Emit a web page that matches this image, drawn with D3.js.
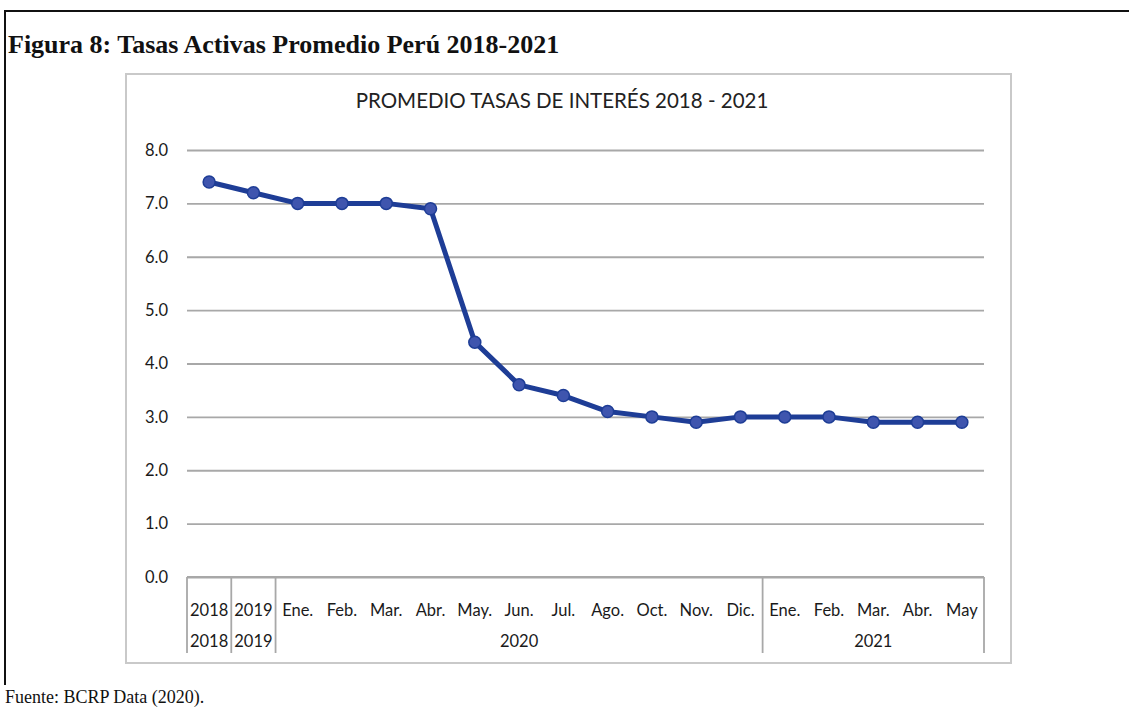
<!DOCTYPE html>
<html>
<head>
<meta charset="utf-8">
<script src="https://cdn.jsdelivr.net/npm/d3@7"></script>
<style>
  html, body { margin: 0; padding: 0; background: #fff; }
  svg { display: block; }
</style>
</head>
<body>
<svg id="fig" width="1129" height="710"></svg>
<script>
// Tasas activas promedio (%), BCRP
const monthLabels = ["2018", "2019", "Ene.", "Feb.", "Mar.", "Abr.", "May.", "Jun.", "Jul.", "Ago.", "Oct.", "Nov.", "Dic.", "Ene.", "Feb.", "Mar.", "Abr.", "May"];
const yearGroups = ["2018", "2019", "2020", "2021"];
const groupSizes = [1, 1, 11, 5];
const rates = [7.4, 7.2, 7.0, 7.0, 7.0, 6.9, 4.4, 3.6, 3.4, 3.1, 3.0, 2.9, 3.0, 3.0, 3.0, 2.9, 2.9, 2.9];
const yTicks = [0, 1, 2, 3, 4, 5, 6, 7, 8];

const svg = d3.select("#fig");

// Page frame (top and left rules)
svg.append("path")
  .attr("d", "M5,685 V11 H1129")
  .attr("fill", "none")
  .attr("stroke", "#111")
  .attr("stroke-width", 2);

svg.append("text")
  .attr("x", 8).attr("y", 53)
  .attr("font-family", "'Liberation Serif', 'Times New Roman', serif")
  .attr("font-weight", "bold")
  .attr("font-size", 26)
  .attr("fill", "#111")
  .text("Figura 8: Tasas Activas Promedio Perú 2018-2021");

svg.append("text")
  .attr("x", 5).attr("y", 703)
  .attr("font-family", "'Liberation Serif', 'Times New Roman', serif")
  .attr("font-size", 18)
  .attr("fill", "#111")
  .text("Fuente: BCRP Data (2020).");

// Chart area
const box = { x: 126, y: 74, w: 885, h: 589 };
svg.append("rect")
  .attr("x", box.x).attr("y", box.y)
  .attr("width", box.w).attr("height", box.h)
  .attr("fill", "#fff")
  .attr("stroke", "#c9c9c9")
  .attr("stroke-width", 2);

const plot = { left: 187, right: 984, top: 150, bottom: 577 };
const font = "Lato, 'Open Sans', sans-serif";

svg.append("text")
  .attr("x", 562)
  .attr("y", 108)
  .attr("text-anchor", "middle")
  .attr("font-family", font)
  .attr("font-size", 20.5)
  .attr("fill", "#222")
  .text("PROMEDIO TASAS DE INTERÉS 2018 - 2021");

const x = d3.scaleBand()
  .domain(d3.range(monthLabels.length))
  .range([plot.left, plot.right]);

const y = d3.scaleLinear()
  .domain([0, 8])
  .range([plot.bottom, plot.top]);

// Horizontal gridlines + value labels
const yAxis = svg.append("g")
  .attr("transform", `translate(${plot.left},0)`)
  .call(d3.axisLeft(y)
    .tickValues(yTicks)
    .tickFormat(d3.format(".1f"))
    .tickSize(-(plot.right - plot.left))
    .tickPadding(19));
yAxis.select(".domain").remove();
yAxis.selectAll(".tick line")
  .attr("stroke", "#a8a8a8")
  .attr("stroke-width", 1.8);
yAxis.selectAll(".tick text")
  .attr("font-family", font)
  .attr("font-size", 16.5)
  .attr("fill", "#1a1a1a");

// Category axis: months on the first row, years on the second
const xAxis = svg.append("g")
  .attr("transform", `translate(0,${plot.bottom})`)
  .call(d3.axisBottom(x)
    .tickFormat(i => monthLabels[i])
    .tickSize(0)
    .tickPadding(27));
xAxis.select(".domain").remove();
xAxis.selectAll(".tick text")
  .attr("font-family", font)
  .attr("font-size", 16.5)
  .attr("fill", "#1a1a1a");

svg.append("line")
  .attr("x1", plot.left).attr("x2", plot.right)
  .attr("y1", plot.bottom).attr("y2", plot.bottom)
  .attr("stroke", "#a8a8a8")
  .attr("stroke-width", 1.8);

// Year group separators and labels
let start = 0;
const boundaries = [0];
groupSizes.forEach((n, gi) => {
  const end = start + n;
  boundaries.push(end);
  const x0 = x(start);
  const x1 = end < monthLabels.length ? x(end) : plot.right;
  svg.append("text")
    .attr("x", (x0 + x1) / 2)
    .attr("y", plot.bottom + 70)
    .attr("text-anchor", "middle")
    .attr("font-family", font)
    .attr("font-size", 16.5)
    .attr("fill", "#1a1a1a")
    .text(yearGroups[gi]);
  start = end;
});
boundaries.forEach(b => {
  const bx = b < monthLabels.length ? x(b) : plot.right;
  svg.append("line")
    .attr("x1", bx).attr("x2", bx)
    .attr("y1", plot.bottom).attr("y2", plot.bottom + 76)
    .attr("stroke", "#a8a8a8")
    .attr("stroke-width", 1.8);
});

// Series line and markers
const cx = i => x(i) + x.bandwidth() / 2;
const line = d3.line()
  .x((d, i) => cx(i))
  .y(d => y(d));

svg.append("path")
  .datum(rates)
  .attr("fill", "none")
  .attr("stroke", "#1e3d96")
  .attr("stroke-width", 5)
  .attr("stroke-linejoin", "round")
  .attr("d", line);

svg.append("g")
  .selectAll("circle")
  .data(rates)
  .join("circle")
  .attr("cx", (d, i) => cx(i))
  .attr("cy", d => y(d))
  .attr("r", 6)
  .attr("fill", "#3f55ae")
  .attr("stroke", "#1e3d96")
  .attr("stroke-width", 1.5);
</script>
</body>
</html>
